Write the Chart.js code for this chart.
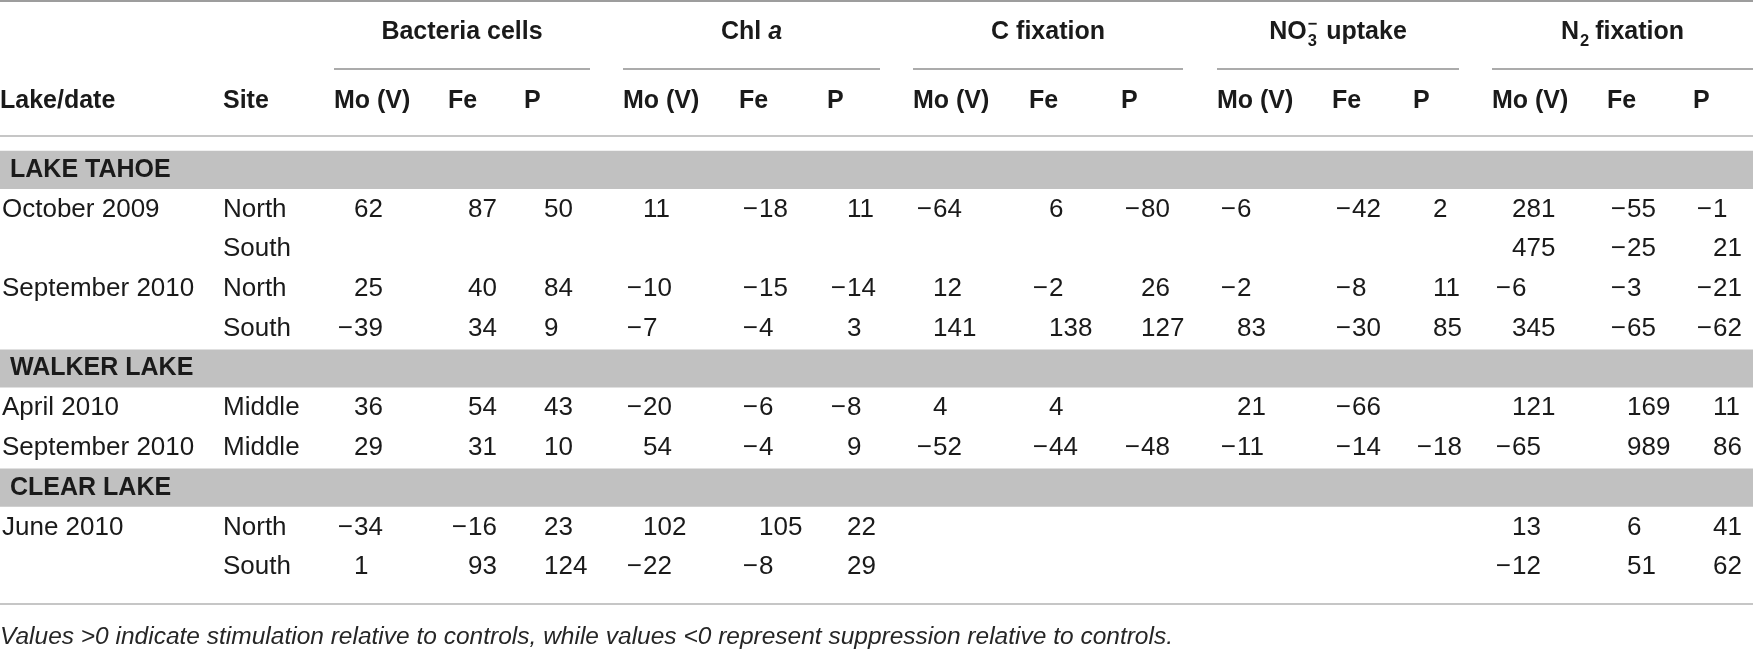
<!DOCTYPE html>
<html lang="en">
<head>
    <meta charset="UTF-8">
    <title>Responses to nutrient additions</title>
    <script src="https://cdn.jsdelivr.net/npm/chart.js"></script>
    <style>
        html, body { margin: 0; padding: 0; background: #ffffff; }
        #box { width: 1753px; height: 651px; }
    </style>
</head>
<body>
<div id="box"><canvas id="tableChart" width="1753" height="651"></canvas></div>
<script>
    const sections = ['LAKE TAHOE', 'WALKER LAKE', 'CLEAR LAKE'];
    const rowSection = [0, 0, 0, 0, 1, 1, 2, 2];
    const lakeDates = ['October 2009', '', 'September 2010', '', 'April 2010', 'September 2010', 'June 2010', ''];
    const sites = ['North', 'South', 'North', 'South', 'Middle', 'Middle', 'North', 'South'];
    const groups = ['Bacteria cells', 'Chl a', 'C fixation', 'NO₃⁻ uptake', 'N₂ fixation'];
    const treatments = ['Mo (V)', 'Fe', 'P'];

    // one row per site/date, columns Mo (V), Fe, P
    const bacteriaCells = [[62, 87, 50], [null, null, null], [25, 40, 84], [-39, 34, 9],
                           [36, 54, 43], [29, 31, 10], [-34, -16, 23], [1, 93, 124]];
    const chlA = [[11, -18, 11], [null, null, null], [-10, -15, -14], [-7, -4, 3],
                  [-20, -6, -8], [54, -4, 9], [102, 105, 22], [-22, -8, 29]];
    const cFixation = [[-64, 6, -80], [null, null, null], [12, -2, 26], [141, 138, 127],
                       [4, 4, null], [-52, -44, -48], [null, null, null], [null, null, null]];
    const no3Uptake = [[-6, -42, 2], [null, null, null], [-2, -8, 11], [83, -30, 85],
                       [21, -66, null], [-11, -14, -18], [null, null, null], [null, null, null]];
    const n2Fixation = [[281, -55, -1], [475, -25, 21], [-6, -3, -21], [345, -65, -62],
                        [121, 169, 11], [-65, 989, 86], [13, 6, 41], [-12, 51, 62]];

    const headLake = 'Lake/date';
    const headSite = 'Site';
    const footnote = 'Values >0 indicate stimulation relative to controls, while values <0 represent suppression relative to controls.';

    const groupValues = [bacteriaCells, chlA, cFixation, no3Uptake, n2Fixation];

    // ---- layout (x in table units, y offsets from the plot area) ----
    const TABLE_W = 1753;
    const FONT = '"Liberation Sans", Arial, sans-serif';
    const BODY = 26;
    const L = {
        lakeX: 2,
        siteX: 223,
        colLeft: [334, 448, 524, 623, 739, 827, 913, 1029, 1121, 1217, 1332, 1413, 1492, 1607, 1693],
        groupEnd: [590, 880, 1183, 1459, 1753],
        minusSlot: 20,
        topRule: -149,
        groupHead: -118,
        groupRule: -81,
        subHead: -49,
        headRule: -14,
        bottomRule: 17,
        note: 50
    };

    // category rows: section bands interleaved with data rows
    const yLabels = [];
    const rowIndex = [];
    const sectionIndex = [];
    let prevSection = -1;
    rowSection.forEach((s, i) => {
        if (s !== prevSection) {
            sectionIndex.push(yLabels.length);
            yLabels.push(sections[s]);
            prevSection = s;
        }
        rowIndex.push(yLabels.length);
        yLabels.push((lakeDates[i] || lakeDates[i - 1]) + ' ' + sites[i]);
    });
    const bandData = yLabels.map((_, i) => sectionIndex.includes(i) ? [0, TABLE_W] : null);

    function richParts(label) {
        const subs = '₀₁₂₃₄₅₆₇₈₉';
        const parts = [];
        for (const ch of label) {
            const si = subs.indexOf(ch);
            const last = parts[parts.length - 1];
            if (si >= 0) parts.push({ t: String(si), sub: true });
            else if (ch === '⁻' && last) last.sup = '−';
            else if (last && !last.sub) last.t += ch;
            else parts.push({ t: ch });
        }
        // single lower-case letters (Chl a) are set in italic
        const out = [];
        parts.forEach(p => {
            if (p.sub) { out.push(p); return; }
            p.t.split(/(\b[a-z]\b)/).forEach(s => {
                if (s) out.push({ t: s, italic: /^[a-z]$/.test(s) });
            });
        });
        return out;
    }

    function drawRich(ctx, label, cx, cy, size) {
        const parts = richParts(label);
        const small = size * 0.66;
        let w = 0;
        parts.forEach(p => {
            ctx.font = p.sub ? `bold ${small}px ${FONT}` : `${p.italic ? 'italic ' : ''}bold ${size}px ${FONT}`;
            p.w = ctx.measureText(p.t).width;
            if (p.sup) p.w = Math.max(p.w, ctx.measureText(p.sup).width) + 3;
            w += p.w;
        });
        let px = cx - w / 2;
        ctx.textAlign = 'left';
        parts.forEach(p => {
            if (p.sub) {
                ctx.font = `bold ${small}px ${FONT}`;
                ctx.fillText(p.t, px + 1, cy + size * 0.36);
                if (p.sup) ctx.fillText(p.sup, px + 1, cy - size * 0.3);
            } else {
                ctx.font = `${p.italic ? 'italic ' : ''}bold ${size}px ${FONT}`;
                ctx.fillText(p.t, px, cy);
            }
            px += p.w;
        });
    }

    const tablePlugin = {
        id: 'tableText',
        afterDatasetsDraw(chart) {
            const { ctx, chartArea, scales: { x, y } } = chart;
            const top = chartArea.top;
            const bottom = chartArea.bottom;
            const px = v => x.getPixelForValue(v);

            function rule(x0, x1, yy, color, width) {
                ctx.strokeStyle = color;
                ctx.lineWidth = width;
                ctx.beginPath();
                ctx.moveTo(px(x0), yy);
                ctx.lineTo(px(x1), yy);
                ctx.stroke();
            }

            ctx.save();
            ctx.textBaseline = 'middle';
            ctx.fillStyle = '#1a1a1a';

            // rules
            rule(0, TABLE_W, top + L.topRule, '#9d9d9d', 2);
            rule(0, TABLE_W, top + L.headRule, '#c6c6c6', 2);
            rule(0, TABLE_W, bottom + L.bottomRule, '#c6c6c6', 2);
            groups.forEach((g, i) => rule(L.colLeft[i * 3], L.groupEnd[i], top + L.groupRule, '#8f8f8f', 1.5));

            // group headings
            groups.forEach((g, i) => {
                const cx = (px(L.colLeft[i * 3]) + px(L.groupEnd[i])) / 2;
                drawRich(ctx, g, cx, top + L.groupHead, 25);
            });

            // sub headings
            ctx.font = `bold 25px ${FONT}`;
            ctx.textAlign = 'left';
            ctx.fillText(headLake, px(0), top + L.subHead);
            ctx.fillText(headSite, px(L.siteX), top + L.subHead);
            groups.forEach((g, i) => treatments.forEach((t, k) => {
                ctx.fillText(t, px(L.colLeft[i * 3 + k]), top + L.subHead);
            }));

            // section bands text
            sectionIndex.forEach((ci, s) => {
                ctx.font = `bold 25px ${FONT}`;
                ctx.fillText(sections[s], px(10), y.getPixelForValue(ci));
            });

            // row labels
            ctx.font = `${BODY}px ${FONT}`;
            rowIndex.forEach((ci, r) => {
                const yy = y.getPixelForValue(ci);
                if (lakeDates[r]) ctx.fillText(lakeDates[r], px(L.lakeX), yy);
                ctx.fillText(sites[r], px(L.siteX), yy);
            });

            // values: digits aligned, minus sign hanging to the left
            groupValues.forEach((vals, g) => vals.forEach((row, r) => row.forEach((v, k) => {
                if (v === null) return;
                const yy = y.getPixelForValue(rowIndex[r]);
                const dx = px(L.colLeft[g * 3 + k]) + L.minusSlot;
                ctx.textAlign = 'left';
                ctx.fillText(String(Math.abs(v)), dx, yy);
                if (v < 0) {
                    ctx.textAlign = 'right';
                    ctx.fillText('−', dx - 1, yy);
                }
            })));

            // footnote
            ctx.textAlign = 'left';
            ctx.font = `italic 24.5px ${FONT}`;
            ctx.fillStyle = '#262626';
            ctx.fillText(footnote, px(0), bottom + L.note);
            ctx.restore();
        }
    };

    const ctx = document.getElementById('tableChart').getContext('2d');
    new Chart(ctx, {
        type: 'bar',
        data: {
            labels: yLabels,
            datasets: [{
                label: 'Sections',
                data: bandData,
                backgroundColor: '#c1c1c1',
                borderWidth: 0,
                barPercentage: 0.96,
                categoryPercentage: 1
            }]
        },
        options: {
            indexAxis: 'y',
            responsive: false,
            animation: false,
            devicePixelRatio: 1,
            layout: { padding: { top: 150, bottom: 64, left: 0, right: 0 } },
            scales: {
                x: { type: 'linear', min: 0, max: TABLE_W, display: false },
                y: { display: false, offset: true }
            },
            plugins: {
                legend: { display: false },
                tooltip: { enabled: false }
            }
        },
        plugins: [tablePlugin]
    });
</script>
</body>
</html>
